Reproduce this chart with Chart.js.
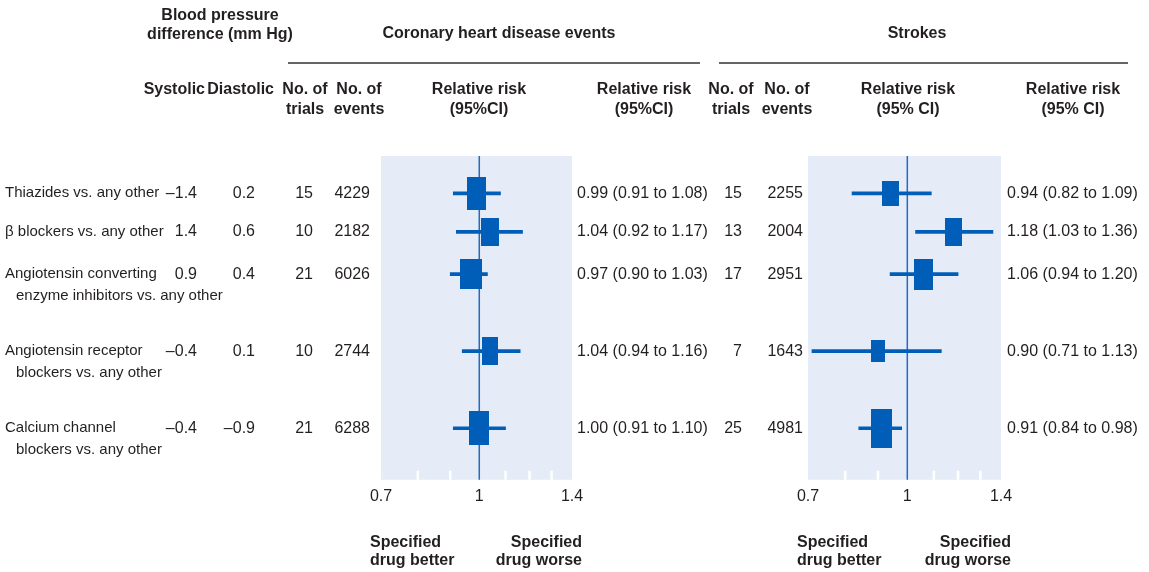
<!DOCTYPE html>
<html>
<head>
<meta charset="utf-8">
<script src="https://cdn.jsdelivr.net/npm/chart.js@4.4.1/dist/chart.umd.min.js"></script>
<style>
  body { margin: 0; background: #fff; }
  .wrap { position: absolute; left: 0; top: 0; width: 1149px; height: 572px; }
</style>
</head>
<body>
<div class="wrap"><canvas id="chd"></canvas></div>
<div class="wrap"><canvas id="stroke"></canvas></div>
<script>
// rows of the table
const drugs = [
  ['Thiazides vs. any other'],
  ['\u03b2 blockers vs. any other'],
  ['Angiotensin converting', 'enzyme inhibitors vs. any other'],
  ['Angiotensin receptor', 'blockers vs. any other'],
  ['Calcium channel', 'blockers vs. any other']
];
const systolic = ['\u20131.4', '1.4', '0.9', '\u20130.4', '\u20130.4'];
const diastolic = ['0.2', '0.6', '0.4', '0.1', '\u20130.9'];

// coronary heart disease
const chdTrials = [15, 10, 21, 10, 21];
const chdEvents = [4229, 2182, 6026, 2744, 6288];
const chdRR = [0.99, 1.04, 0.97, 1.04, 1.00];
const chdLo = [0.91, 0.92, 0.90, 0.94, 0.91];
const chdHi = [1.08, 1.17, 1.03, 1.16, 1.10];

// strokes
const strokeTrials = [15, 13, 17, 7, 25];
const strokeEvents = [2255, 2004, 2951, 1643, 4981];
const strokeRR = [0.94, 1.18, 1.06, 0.90, 0.91];
const strokeLo = [0.82, 1.03, 0.94, 0.71, 0.84];
const strokeHi = [1.09, 1.36, 1.20, 1.13, 0.98];

const xTicks = [0.7, 0.8, 0.9, 1, 1.1, 1.2, 1.3, 1.4];
const xLabels = [0.7, 1, 1.4];

// layout only: row slots on the y scale and box sizes (w, h)
const rowPos = [0, 1, 2.1, 4.1, 6.1];
const chdBoxes = [[19, 33], [18, 28], [22, 30], [16, 28], [20, 34]];
const strokeBoxes = [[17, 25], [17, 28], [19, 31], [14, 22], [21, 39]];

const FONT = '"Liberation Sans", Arial, Helvetica, sans-serif';
const INK = '#231f20';
const BLUE = '#005eb8';

function boxImage(size) {
  const c = document.createElement('canvas');
  c.width = size[0];
  c.height = size[1];
  const g = c.getContext('2d');
  g.fillStyle = BLUE;
  g.fillRect(0, 0, size[0], size[1]);
  return c;
}

function ci(rr, lo, hi) {
  return rr.toFixed(2) + ' (' + lo.toFixed(2) + ' to ' + hi.toFixed(2) + ')';
}

const panelBack = {
  id: 'panelBack',
  beforeDatasetsDraw(chart) {
    const {ctx, chartArea: a, scales: {x}} = chart;
    ctx.save();
    ctx.fillStyle = '#e6ecf7';
    ctx.fillRect(a.left, a.top, a.right - a.left, a.bottom - a.top);
    // small white ticks at the foot of the panel
    ctx.strokeStyle = '#fff';
    ctx.lineWidth = 2.5;
    xTicks.forEach(v => {
      if (v === 1 || v === xTicks[0] || v === xTicks[xTicks.length - 1]) return;
      const px = x.getPixelForValue(v);
      ctx.beginPath();
      ctx.moveTo(px, a.bottom - 9);
      ctx.lineTo(px, a.bottom);
      ctx.stroke();
    });
    const one = x.getPixelForValue(1);
    ctx.strokeStyle = '#1f6cc4';
    ctx.lineWidth = 1.5;
    ctx.beginPath();
    ctx.moveTo(one, a.top);
    ctx.lineTo(one, a.bottom);
    ctx.stroke();
    ctx.restore();
  }
};

const tableText = {
  id: 'tableText',
  afterDraw(chart) {
    const {ctx, scales: {y}} = chart;
    ctx.save();
    ctx.fillStyle = INK;
    ctx.textBaseline = 'middle';
    const put = (t, x, yy, align, bold, size) => {
      ctx.font = (bold ? 'bold ' : '') + (size || 16) + 'px ' + FONT;
      ctx.textAlign = align;
      ctx.fillText(t, x, yy);
    };

    // headings
    put('Blood pressure', 220, 16, 'center', true);
    put('difference (mm Hg)', 220, 35, 'center', true);
    put('Coronary heart disease events', 499, 34, 'center', true);
    put('Strokes', 917, 34, 'center', true);
    put('Systolic', 205, 90, 'right', true);
    put('Diastolic', 274, 90, 'right', true);
    put('No. of', 305, 90, 'center', true);
    put('trials', 305, 110, 'center', true);
    put('No. of', 359, 90, 'center', true);
    put('events', 359, 110, 'center', true);
    put('Relative risk', 479, 90, 'center', true);
    put('(95%CI)', 479, 110, 'center', true);
    put('Relative risk', 644, 90, 'center', true);
    put('(95%CI)', 644, 110, 'center', true);
    put('No. of', 731, 90, 'center', true);
    put('trials', 731, 110, 'center', true);
    put('No. of', 787, 90, 'center', true);
    put('events', 787, 110, 'center', true);
    put('Relative risk', 908, 90, 'center', true);
    put('(95% CI)', 908, 110, 'center', true);
    put('Relative risk', 1073, 90, 'center', true);
    put('(95% CI)', 1073, 110, 'center', true);

    ctx.strokeStyle = '#333';
    ctx.lineWidth = 1.5;
    ctx.beginPath();
    ctx.moveTo(288, 63); ctx.lineTo(700, 63);
    ctx.moveTo(719, 63); ctx.lineTo(1128, 63);
    ctx.stroke();

    // rows
    drugs.forEach((lines, i) => {
      const py = y.getPixelForValue(rowPos[i]);
      lines.forEach((t, k) => put(t, k ? 16 : 5, py + k * 22, 'left', false, 15));
      put(systolic[i], 197, py, 'right');
      put(diastolic[i], 255, py, 'right');
      put(String(chdTrials[i]), 313, py, 'right');
      put(String(chdEvents[i]), 370, py, 'right');
      put(ci(chdRR[i], chdLo[i], chdHi[i]), 577, py, 'left');
      put(String(strokeTrials[i]), 742, py, 'right');
      put(String(strokeEvents[i]), 803, py, 'right');
      put(ci(strokeRR[i], strokeLo[i], strokeHi[i]), 1007, py, 'left');
    });

    // foot notes under each panel
    [[370, 582], [797, 1011]].forEach(p => {
      put('Specified', p[0], 543, 'left', true);
      put('drug better', p[0], 561, 'left', true);
      put('Specified', p[1], 543, 'right', true);
      put('drug worse', p[1], 561, 'right', true);
    });
    ctx.restore();
  }
};

function forest(id, rr, lo, hi, boxes, left, right, extra) {
  return new Chart(id, {
    type: 'bar',
    data: {
      datasets: [
        {
          type: 'scatter',
          data: rr.map((v, i) => ({x: v, y: rowPos[i]})),
          pointStyle: boxes.map(boxImage),
          pointRadius: 3
        },
        {
          type: 'bar',
          data: lo.map((v, i) => ({x: [v, hi[i]], y: rowPos[i]})),
          backgroundColor: BLUE,
          borderWidth: 0,
          barThickness: 3
        }
      ]
    },
    options: {
      indexAxis: 'y',
      responsive: true,
      maintainAspectRatio: false,
      animation: false,
      events: [],
      layout: { padding: { left: left, right: 1149 - right, top: 156, bottom: 59 } },
      plugins: { legend: { display: false }, tooltip: { enabled: false } },
      scales: {
        x: {
          type: 'logarithmic',
          min: 0.7,
          max: 1.4,
          grid: { display: false, drawTicks: false },
          border: { display: false },
          afterBuildTicks: s => { s.ticks = xLabels.map(v => ({value: v})); },
          ticks: {
            autoSkip: false,
            maxRotation: 0,
            padding: 7,
            color: INK,
            font: { family: FONT, size: 16 },
            callback: v => String(v)
          }
        },
        y: { type: 'linear', display: false, offset: false, reverse: true, min: -0.97, max: 7.44 }
      }
    },
    plugins: extra ? [panelBack, extra] : [panelBack]
  });
}

forest('chd', chdRR, chdLo, chdHi, chdBoxes, 381, 572, tableText);
forest('stroke', strokeRR, strokeLo, strokeHi, strokeBoxes, 808, 1001);
</script>
</body>
</html>
